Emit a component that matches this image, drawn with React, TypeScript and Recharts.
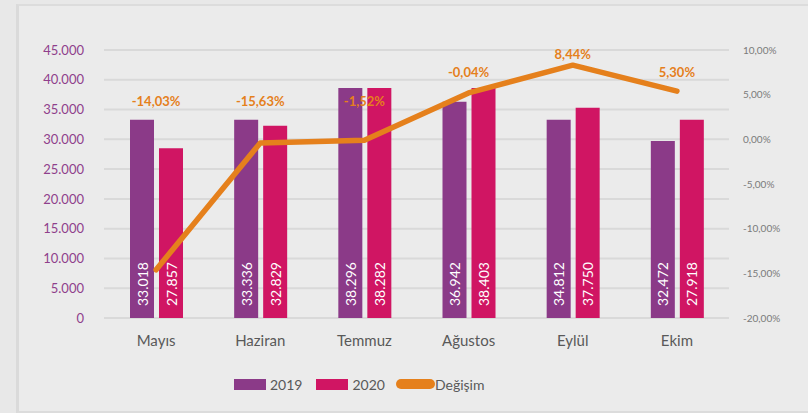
import { ComposedChart, Bar, Line, XAxis, YAxis, CartesianGrid, LabelList } from "recharts";

// months on the x axis
const months = ["Mayıs", "Haziran", "Temmuz", "Ağustos", "Eylül", "Ekim"];

// bar heights as drawn in the picture
const sales2019 = [33300, 33300, 38600, 36300, 33300, 29700];
const sales2020 = [28500, 32300, 38600, 38600, 35300, 33300];

// the white labels written inside the bars
const labels2019 = ["33.018", "33.336", "38.296", "36.942", "34.812", "32.472"];
const labels2020 = ["27.857", "32.829", "38.282", "38.403", "37.750", "27.918"];

// change line (right axis, percent)
const change = [-14.6, -0.4, -0.1, 5.2, 8.3, 5.4];
const changeLabels = ["-14,03%", "-15,63%", "-1,52%", "-0,04%", "8,44%", "5,30%"];
// where the orange labels sit, in right axis units
const changeLabelLevel = [4.3, 4.3, 4.3, 7.5, 9.5, 7.5];

const leftTicks = [0, 5000, 10000, 15000, 20000, 25000, 30000, 35000, 40000, 45000];
const rightTicks = [-20, -15, -10, -5, 0, 5, 10];

const PURPLE = "#8b3a88";
const MAGENTA = "#d01563";
const ORANGE = "#e5801c";
const FONT = "Lato, 'Open Sans', sans-serif";

const data = months.map((m, i) => ({
    month: m,
    y2019: sales2019[i],
    y2020: sales2020[i],
    l2019: labels2019[i],
    l2020: labels2020[i],
    change: change[i],
    labelLevel: changeLabelLevel[i],
    changeLabel: changeLabels[i],
}));

const fmtThousands = (v: number) => String(v).replace(/\B(?=(\d{3})+(?!\d))/g, ".");
const fmtPercent = (v: number) => v.toFixed(2).replace(".", ",") + "%";

// rotated white value inside the bar, reading bottom to top
const BarValue = (props: any) => {
    const { x, y, width, height, value } = props;
    const cx = Number(x) + Number(width) / 2;
    const by = Number(y) + Number(height) - 12;
    return (
        <text
            x={cx}
            y={by}
            transform={`rotate(-90 ${cx} ${by})`}
            fill="#ffffff"
            fontSize={14}
            fontFamily={FONT}
            textAnchor="start"
            dominantBaseline="central"
        >
            {value}
        </text>
    );
};

const ChangeValue = (props: any) => {
    const { x, y, value } = props;
    return (
        <text x={x} y={y} fill={ORANGE} fontSize={13} fontWeight={700} fontFamily={FONT} textAnchor="middle" dominantBaseline="central">
            {value}
        </text>
    );
};

function LegendRow() {
    const item = { display: "flex", alignItems: "center" } as const;
    const txt = { fontSize: 14, color: "#595959", fontFamily: FONT } as const;
    return (
        <div style={{ position: "absolute", left: 234, top: 374, display: "flex", alignItems: "center", height: 20 }}>
            <div style={item}>
                <div style={{ width: 32, height: 11, background: PURPLE, marginRight: 4 }} />
                <span style={txt}>2019</span>
            </div>
            <div style={{ ...item, marginLeft: 14 }}>
                <div style={{ width: 32, height: 11, background: MAGENTA, marginRight: 4 }} />
                <span style={txt}>2020</span>
            </div>
            <div style={{ ...item, marginLeft: 11 }}>
                <div style={{ width: 39, height: 10, borderRadius: 5, background: ORANGE }} />
                <span style={txt}>Değişim</span>
            </div>
        </div>
    );
}

export default function App() {
    return (
        <div style={{ position: "fixed", left: 0, top: 0, width: 808, height: 413, background: "#e8e8e8", overflow: "hidden" }}>
            {/* card frame */}
            <div
                style={{
                    position: "absolute",
                    left: 16,
                    top: 4,
                    right: 0,
                    bottom: 0,
                    background: "#ebebeb",
                    borderLeft: "3px solid #dadada",
                    borderTop: "2px solid #dcdcdc",
                    borderBottom: "2px solid #dcdcdc",
                }}
            />
            <div style={{ position: "absolute", left: 0, top: 0 }}>
                <ComposedChart width={808} height={413} data={data} margin={{ top: 50, right: 0, bottom: 0, left: 0 }} barGap={5} barSize={24}>
                    <CartesianGrid yAxisId="left" vertical={false} stroke="#d9d9d9" strokeWidth={2} />
                    <XAxis
                        dataKey="month"
                        height={95}
                        axisLine={false}
                        tickLine={false}
                        tickSize={0}
                        tickMargin={17}
                        tick={{ fontSize: 15, fill: "#595959", fontFamily: FONT }}
                    />
                    <YAxis
                        yAxisId="left"
                        width={104}
                        domain={[0, 45000]}
                        ticks={leftTicks}
                        tickFormatter={fmtThousands}
                        axisLine={false}
                        tickLine={false}
                        tickSize={0}
                        tickMargin={20}
                        tick={{ fontSize: 13, fill: "#8f3f8c", fontFamily: FONT }}
                    />
                    <YAxis
                        yAxisId="right"
                        orientation="right"
                        width={79}
                        domain={[-20, 10]}
                        ticks={rightTicks}
                        tickFormatter={fmtPercent}
                        axisLine={false}
                        tickLine={false}
                        tickSize={0}
                        tickMargin={14}
                        tick={{ fontSize: 10, fill: "#7a7a7a", fontFamily: FONT }}
                    />
                    <Bar yAxisId="left" dataKey="y2019" fill={PURPLE} isAnimationActive={false}>
                        <LabelList dataKey="l2019" content={BarValue} />
                    </Bar>
                    <Bar yAxisId="left" dataKey="y2020" fill={MAGENTA} isAnimationActive={false}>
                        <LabelList dataKey="l2020" content={BarValue} />
                    </Bar>
                    <Line
                        yAxisId="right"
                        type="linear"
                        dataKey="change"
                        stroke={ORANGE}
                        strokeWidth={5.5}
                        strokeLinecap="round"
                        strokeLinejoin="round"
                        dot={false}
                        activeDot={false}
                        isAnimationActive={false}
                    />
                    {/* invisible series that only carries the orange labels */}
                    <Line
                        yAxisId="right"
                        dataKey="labelLevel"
                        stroke="none"
                        dot={false}
                        activeDot={false}
                        legendType="none"
                        isAnimationActive={false}
                    >
                        <LabelList dataKey="changeLabel" content={ChangeValue} />
                    </Line>
                </ComposedChart>
            </div>
            <LegendRow />
        </div>
    );
}
